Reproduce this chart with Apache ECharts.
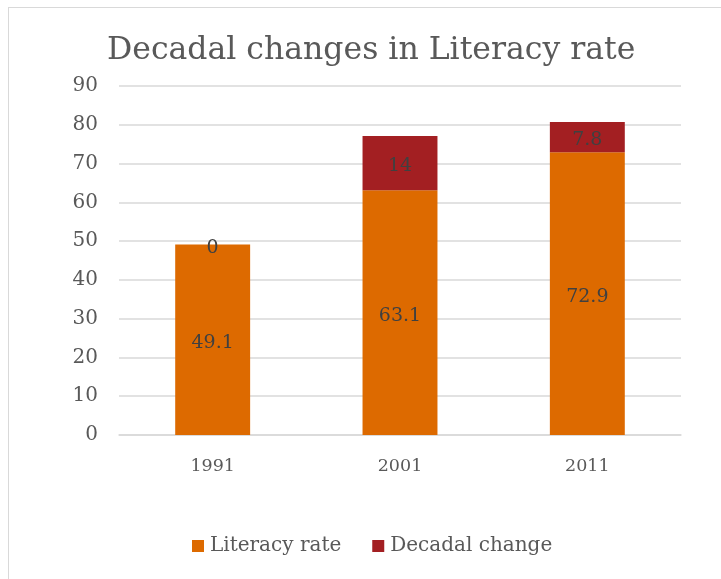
<!DOCTYPE html>
<html>
<head>
<meta charset="utf-8">
<script src="https://cdn.jsdelivr.net/npm/echarts@6/dist/echarts.min.js"></script>
<style>
  html, body { margin: 0; padding: 0; background: #fff; overflow: hidden; }
  #frame { position: absolute; left: 8px; top: 7px; width: 760px; height: 620px;
           border: 1.5px solid #d9d9d9; box-sizing: border-box; }
  #chart { position: absolute; left: 0; top: 0; width: 721px; height: 579px; }
</style>
</head>
<body>
<div id="frame"></div>
<div id="chart"></div>
<script>
const categories = ['1991', '2001', '2011'];
const literacyRate = [49.1, 63.1, 72.9];
const decadalChange = [0, 14, 7.8];
const yTicks = { min: 0, max: 90, interval: 10 };

const serif = 'DejaVu Serif';
const chart = echarts.init(document.getElementById('chart'), null, { renderer: 'canvas' });

const labelStyle = {
  show: true,
  position: 'inside',
  offset: [0, 3],
  color: '#404040',
  fontFamily: serif,
  fontSize: 19
};

chart.setOption({
  animation: false,
  title: {
    text: 'Decadal changes in Literacy rate',
    left: 102,
    top: 30,
    textStyle: { fontFamily: serif, fontSize: 31.5, fontWeight: 'normal', color: '#595959' }
  },
  legend: {
    bottom: 18,
    left: 187,
    itemWidth: 12,
    itemHeight: 12,
    itemGap: 31,
    icon: 'rect',
    textStyle: { fontFamily: serif, fontSize: 20, color: '#595959', padding: [0, 0, 0, 1] },
    data: ['Literacy rate', 'Decadal change']
  },
  grid: { left: 119, right: 40, top: 86, bottom: 144, containLabel: false },
  xAxis: {
    type: 'category',
    data: categories,
    axisLine: { lineStyle: { color: '#d9d9d9', width: 1.5 } },
    axisTick: { show: false },
    axisLabel: { fontFamily: serif, fontSize: 17.5, color: '#595959', margin: 22 }
  },
  yAxis: {
    type: 'value',
    min: yTicks.min,
    max: yTicks.max,
    interval: yTicks.interval,
    axisLine: { show: false },
    axisTick: { show: false },
    axisLabel: { fontFamily: serif, fontSize: 20, color: '#595959', margin: 21 },
    splitLine: { lineStyle: { color: '#d9d9d9', width: 1.5 } }
  },
  series: [
    {
      name: 'Literacy rate',
      type: 'bar',
      stack: 'total',
      barWidth: '40%',
      data: literacyRate,
      itemStyle: { color: '#DD6A00' },
      label: labelStyle
    },
    {
      name: 'Decadal change',
      type: 'bar',
      stack: 'total',
      barWidth: '40%',
      data: decadalChange,
      itemStyle: { color: '#A31F22' },
      label: labelStyle
    }
  ]
});
</script>
</body>
</html>
